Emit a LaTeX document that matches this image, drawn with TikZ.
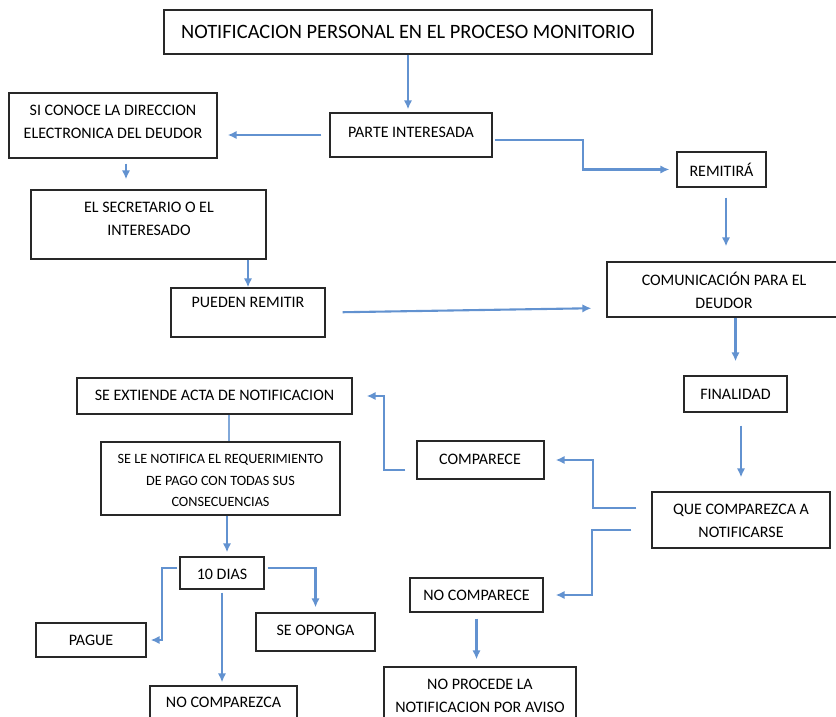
\documentclass[tikz,border=0pt]{standalone}
\usepackage{fontspec}
\setmainfont{Carlito}
\usetikzlibrary{arrows.meta,calc,fit}
\definecolor{linkblue}{RGB}{98,146,208}
\definecolor{boxline}{RGB}{40,40,40}

\begin{document}
\begin{tikzpicture}[x=0.5pt,y=-0.5pt,
        box/.style={draw=boxline, line width=0.65pt, inner sep=0pt},
        lbl/.style={font=\fontsize{8}{11.5}\selectfont, align=center, inner sep=0pt},
        arr/.style={draw=linkblue, line width=1.05pt, -{Latex[length=4.5pt,width=4.2pt]}},
        link/.style={draw=linkblue!80, line width=0.9pt}]
        \clip (0,0) rectangle (836,717);

        \node[box, fit={(164,10) (652,54)}] (T) {};
        \node[lbl, font=\fontsize{10.2}{12}\selectfont] (T-t) at (408,32) {NOTIFICACION PERSONAL EN EL PROCESO MONITORIO};

        \node[box, fit={(330,113) (492,157)}] (P) {};
        \node[lbl] (P-t) at (411,132) {PARTE INTERESADA};
        \node[box, fit={(9,93) (217,158)}] (S) {};
        \node[lbl] (S-t) at (113,121.5) {SI CONOCE LA DIRECCION\\ELECTRONICA DEL DEUDOR};
        \node[box, fit={(31,190) (266,259)}] (E) {};
        \node[lbl] (E-t) at (149,218.5) {EL SECRETARIO O EL\\INTERESADO};
        \node[box, fit={(171,288) (325,337)}] (R) {};
        \node[lbl] (R-t) at (248,302) {PUEDEN REMITIR};
        \node[box, fit={(677,152) (766,187)}] (M) {};
        \node[lbl] (M-t) at (721.5,170) {REMITIRÁ};
        \node[box, fit={(607,262) (842,317)}] (C) {};
        \node[lbl] (C-t) at (724,290.5) {COMUNICACIÓN PARA EL\\DEUDOR};
        \node[box, fit={(684,376) (787,412)}] (F) {};
        \node[lbl] (F-t) at (735.5,394) {FINALIDAD};
        \node[box, fit={(652,492) (830,548)}] (Q) {};
        \node[lbl] (Q-t) at (741,521) {QUE COMPAREZCA A\\NOTIFICARSE};
        %%%%%%%%%%

        \node[box, fit={(417,441) (544,479)}] (A) {};
        \node[lbl] (A-t) at (480,459) {COMPARECE};
        \node[box, fit={(410,578) (543,612)}] (N) {};
        \node[lbl] (N-t) at (476.5,595) {NO COMPARECE};
        \node[box, fit={(384,667) (576,725)}] (V) {};
        \node[lbl] (V-t) at (480,696) {NO PROCEDE LA\\NOTIFICACION POR AVISO};
        \node[box, fit={(77,378) (352,414)}] (X) {};
        \node[lbl] (X-t) at (214.5,395) {SE EXTIENDE ACTA DE NOTIFICACION};
        \node[box, fit={(101,442) (340,515)}] (L) {};
        \node[lbl, font=\fontsize{7.1}{10.8}\selectfont] (L-t) at (220.5,480.5) {SE LE NOTIFICA EL REQUERIMIENTO\\DE PAGO CON TODAS SUS\\CONSECUENCIAS};
        \node[box, fit={(180,557) (264,589)}] (D) {};
        \node[lbl] (D-t) at (222,574) {10 DIAS};
        \node[box, fit={(36,623) (146,657)}] (G) {};
        \node[lbl] (G-t) at (91,640) {PAGUE};
        \node[box, fit={(256,613) (375,651)}] (O) {};
        \node[lbl] (O-t) at (315.5,630) {SE OPONGA};
        \node[box, fit={(150,686) (297,725)}] (Z) {};
        \node[lbl] (Z-t) at (223.5,702) {NO COMPAREZCA};
        %%%%%%%%%%

        \coordinate (s1) at ($(S.south)+(13,0)$);
        \coordinate (l1) at ($(L.north)+(8.5,0)$);
        \coordinate (d1) at ($(D.north)+(5,0)$);
        \coordinate (m1) at ($(M.south)+(4.5,0)$);

        \draw[arr, shorten >=1.5pt] (T.south) -- (T.south |- P.north);
        \draw[arr, shorten <=4pt, shorten >=5pt] (P.west) -- (P.west -| S.east);
        \draw[arr, shorten <=2.5pt, shorten >=5pt] (s1) -- (s1 |- E.north);
        \draw[arr] (R.north |- E.south) -- (R.north);
        \draw[arr, shorten <=8.5pt, shorten >=7.5pt] (R.east) -- ($(C.west)+(0,18.5)$);
        \draw[arr, shorten >=3.5pt] ($(P.east)+(2,5)$) -- ++(88,0) |- (M.west);
        \draw[arr, shorten <=5pt, shorten >=7.5pt] (m1) -- (m1 |- C.north);
        \draw[arr, shorten >=7pt] (F.north |- C.south) -- (F.north);
        \draw[arr, shorten <=6.5pt, shorten >=7pt] (Q.north |- F.south) -- (Q.north);
        %%%%%%%%%%

        \draw[arr, shorten <=7.5pt, shorten >=5.5pt] ($(Q.west)+(0,-12)$) -- ++(-58,0) |- (A.east);
        \draw[arr, shorten <=10pt, shorten >=6pt] ($(Q.west)+(0,10)$) -- ++(-59,0) |- (N.east);
        \draw[arr, shorten <=5.5pt, shorten >=7pt] ($(A.west)+(0,10)$) -- ++(-32,0) |- (X.east);
        \draw[arr, shorten <=3pt, shorten >=3.5pt] (N.south) -- (N.south |- V.north);
        \draw[link] (l1 |- X.south) -- (l1);
        \draw[arr, shorten >=2pt] (d1 |- L.south) -- (d1);
        \draw[arr, shorten <=1pt, shorten >=2pt] ($(D.west)+(0,-5)$) -- ++(-17,0) |- (G.east);
        \draw[arr, shorten <=1.5pt, shorten >=2.5pt] ($(D.east)+(0,-5)$) -| (O.north);
        \draw[arr, shorten <=1.5pt, shorten >=1.5pt] (D.south) -- (D.south |- Z.north);
    \end{tikzpicture}
\end{document}
